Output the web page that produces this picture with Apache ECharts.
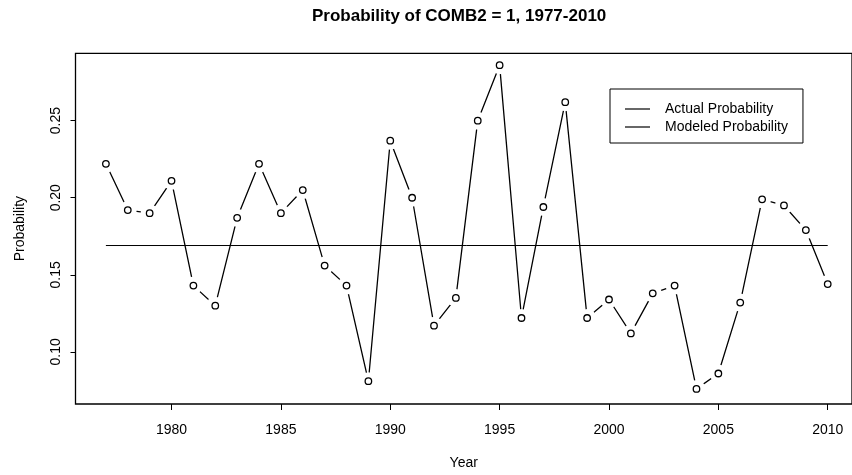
<!DOCTYPE html>
<html>
<head>
<meta charset="utf-8">
<script src="https://cdn.jsdelivr.net/npm/echarts@6/dist/echarts.min.js"></script>
<style>
  html, body { margin: 0; padding: 0; background: #fff; }
  #chart { width: 852px; height: 475px; }
</style>
</head>
<body>
<div id="chart"></div>
<script>
const years = [1977, 1978, 1979, 1980, 1981, 1982, 1983, 1984, 1985, 1986, 1987,
    1988, 1989, 1990, 1991, 1992, 1993, 1994, 1995, 1996, 1997, 1998,
    1999, 2000, 2001, 2002, 2003, 2004, 2005, 2006, 2007, 2008, 2009, 2010];

const actualProb = [0.222, 0.192, 0.190, 0.211, 0.143, 0.130, 0.187, 0.222, 0.190, 0.205, 0.156,
    0.143, 0.081, 0.237, 0.200, 0.117, 0.135, 0.250, 0.286, 0.122, 0.194, 0.262,
    0.122, 0.134, 0.112, 0.138, 0.143, 0.076, 0.086, 0.132, 0.199, 0.195, 0.179, 0.144];

const modeledYears = [1977, 2010];
const modeledProb = [0.169, 0.169];

const xTicks = [1980, 1985, 1990, 1995, 2000, 2005, 2010];
const yTicks = [0.10, 0.15, 0.20, 0.25];

const font = "Liberation Sans, Arial, sans-serif";

const chart = echarts.init(document.getElementById("chart"));

const actualPts = years.map((y, i) => [y, actualProb[i]]);

chart.setOption({
    animation: false,
    title: {
        text: "Probability of COMB2 = 1, 1977-2010",
        left: 312,
        top: 8,
        padding: 0,
        textStyle: { fontFamily: font, fontSize: 17, fontWeight: "bold", color: "#000" }
    },
    legend: {
        left: 610,
        top: 89,
        orient: "vertical",
        selectedMode: false,
        borderColor: "#000",
        borderWidth: 1,
        padding: [13, 15, 9, 15],
        itemGap: 4,
        itemWidth: 25,
        itemHeight: 1.2,
        textStyle: { fontFamily: font, fontSize: 14, color: "#000", lineHeight: 14, padding: [0, 0, 0, 10] },
        data: [
            { name: "Actual Probability", icon: "rect", itemStyle: { color: "#000" } },
            { name: "Modeled Probability", icon: "rect", itemStyle: { color: "#000" } }
        ]
    },
    grid: {
        left: 75.5,
        top: 53.3,
        right: -2,
        bottom: 69.3,
        show: true,
        borderColor: "#000",
        borderWidth: 1.3
    },
    xAxis: {
        type: "value",
        min: 1975.61,
        max: 2011.11,
        name: "Year",
        nameLocation: "middle",
        nameGap: 52,
        nameTextStyle: { fontFamily: font, fontSize: 14, color: "#000" },
        splitLine: { show: false },
        axisLine: { show: false },
        axisTick: { show: true, length: 6, lineStyle: { color: "#000" }, customValues: xTicks },
        axisLabel: {
            fontFamily: font, fontSize: 14, color: "#000", margin: 19,
            customValues: xTicks,
            formatter: v => String(v)
        }
    },
    yAxis: {
        type: "value",
        min: 0.0662,
        max: 0.2937,
        name: "Probability",
        nameLocation: "middle",
        nameGap: 48,
        nameTextStyle: { fontFamily: font, fontSize: 14, color: "#000" },
        splitLine: { show: false },
        axisLine: { show: false },
        axisTick: { show: true, length: 5, lineStyle: { color: "#000" }, customValues: yTicks },
        axisLabel: {
            fontFamily: font, fontSize: 14, color: "#000", margin: 12, rotate: 90,
            customValues: yTicks,
            formatter: v => v.toFixed(2)
        }
    },
    series: [
        {
            name: "Actual Probability",
            type: "line",
            data: actualPts,
            showSymbol: false,
            z: 2,
            lineStyle: { color: "#000", width: 1.3 },
            itemStyle: { color: "#000" }
        },
        {
            type: "scatter",
            data: actualPts,
            symbol: "circle",
            symbolSize: 18,
            z: 3,
            silent: true,
            itemStyle: { color: "#fff", borderWidth: 0, opacity: 1 }
        },
        {
            type: "scatter",
            data: actualPts,
            symbol: "circle",
            symbolSize: 6.5,
            z: 4,
            silent: true,
            itemStyle: { color: "#fff", borderColor: "#000", borderWidth: 1.3, opacity: 1 }
        },
        {
            name: "Modeled Probability",
            type: "line",
            data: modeledYears.map((y, i) => [y, modeledProb[i]]),
            showSymbol: false,
            z: 5,
            lineStyle: { color: "#000", width: 1 },
            itemStyle: { color: "#000" }
        }
    ]
});

window.addEventListener("resize", () => chart.resize());
</script>
</body>
</html>
